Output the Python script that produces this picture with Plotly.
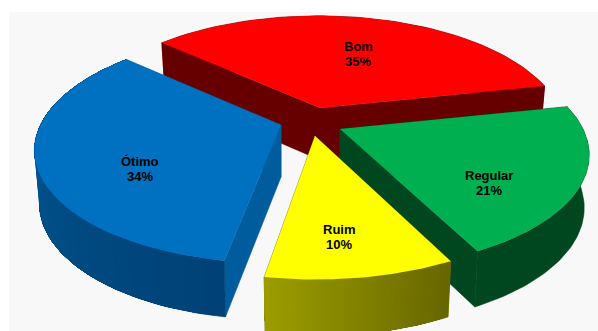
import numpy as np
import plotly.graph_objects as go

# Survey answers, share of respondents in percent
labels = ["Bom", "Regular", "Ruim", "Ótimo"]
values = [35, 21, 10, 34]

top_colors = ["#FF0000", "#00B050", "#FFFF00", "#0070C0"]
cut_colors = ["#660000", "#00461F", "#808000", "#005C9C"]
# rim colour at the first and last angle of each slice
rim_colors = [((102, 0, 0), (102, 0, 0)),
              ((0, 70, 31), (0, 70, 31)),
              ((102, 102, 0), (156, 156, 0)),
              ((0, 66, 118), (0, 94, 158))]

# Tilted-disc projection, expressed in page units
START_ANGLE = 312.0
CENTRE = (311.0, 122.0)
RX, RY, PERSPECTIVE = 243.0, 112.0, 0.2
DEPTH, DEPTH_SLOPE, BASE_SHRINK = 52.0, 0.03, 0.02
CONVERGENCE = 0.00167  # depth lines lean outward the further a slice sits from the middle

# Exploded offset and apparent size of each slice, and where its label sits (radius, angle)
pull = [(9, -14), (29, 7), (4, 14), (-30, 3)]
slice_scale = [0.985, 1.0, 1.02, 0.99]
label_anchor = [(0.56, 18.0), (0.71, 128.0), (0.77, 173.7), (0.65, 236.0)]


def project(radius, angle_deg):
    """Offset from a slice's apex for a point on the unit disc (clockwise from 12 o'clock)."""
    t = np.radians(angle_deg)
    px, py = radius * np.sin(t), -radius * np.cos(t)
    w = 1 - PERSPECTIVE * py
    return RX * px / w, RY * py / w


def lower(x, y):
    """Same offset moved down to the underside of the disc."""
    return x * (1 - BASE_SHRINK), y + DEPTH + DEPTH_SLOPE * y


def polygon(fig, xs, ys, color, edge=0.0):
    fig.add_trace(go.Scatter(
        x=xs, y=ys, mode="lines", fill="toself", fillcolor=color,
        line=dict(color=color, width=edge), hoverinfo="skip", showlegend=False))


fig = go.Figure()

angle = START_ANGLE
spans = []
for v in values:
    spans.append((angle, angle + v * 3.6))
    angle += v * 3.6

# Back-to-front drawing order
annotations = []
for i in [0, 1, 2, 3]:
    a0, a1 = spans[i]
    ax, ay = CENTRE[0] + pull[i][0], CENTRE[1] + pull[i][1]
    arc = np.linspace(a0, a1, 60)
    ox, oy = project(slice_scale[i], arc)
    ox = ox + CONVERGENCE * pull[i][0] * oy
    bx, by = lower(ox, oy)
    apex_bx, apex_by = lower(0.0, 0.0)

    # Two cut faces running in to the apex
    for k in (0, -1):
        polygon(fig,
                [ax, ax + ox[k], ax + bx[k], ax + apex_bx, ax],
                [ay, ay + oy[k], ay + by[k], ay + apex_by, ay],
                cut_colors[i], edge=0.6)

    # Curved rim: a solid band, then overlapping shaded strips where the colour varies
    c0, c1 = np.array(rim_colors[i][0]), np.array(rim_colors[i][1])
    r, g, b = c0
    polygon(fig,
            np.concatenate((ax + ox, (ax + bx)[::-1], [ax + ox[0]])),
            np.concatenate((ay + oy, (ay + by)[::-1], [ay + oy[0]])),
            f"rgb({r},{g},{b})", edge=0.6)
    if not np.array_equal(c0, c1):
        for k in range(1, len(arc) - 1):
            f = k / (len(arc) - 2)
            r, g, b = (c0 + (c1 - c0) * f).round().astype(int)
            polygon(fig,
                    np.concatenate((ax + ox[k:], (ax + bx[k:])[::-1], [ax + ox[k]])),
                    np.concatenate((ay + oy[k:], (ay + by[k:])[::-1], [ay + oy[k]])),
                    f"rgb({r},{g},{b})")

    # Upper face
    polygon(fig,
            np.concatenate(([ax], ax + ox, [ax])),
            np.concatenate(([ay], ay + oy, [ay])),
            top_colors[i])

    lx, ly = project(*label_anchor[i])
    for text, dy in ((labels[i], -7.5), (f"{values[i]}%", 7.5)):
        annotations.append(dict(
            x=ax + lx, y=ay + ly + dy, text=text, showarrow=False,
            xanchor="center", yanchor="middle",
            font=dict(family="Liberation Sans", size=13, color="#000000", weight="bold")))

fig.update_layout(
    width=598, height=331,
    margin=dict(l=0, r=0, t=0, b=0),
    paper_bgcolor="#FFFFFF", plot_bgcolor="#FFFFFF",
    showlegend=False,
    xaxis=dict(range=[0, 598], visible=False, fixedrange=True),
    yaxis=dict(range=[331, 0], visible=False, fixedrange=True),
    shapes=[dict(type="rect", xref="x", yref="y", x0=9, y0=12, x1=598, y1=331,
                 fillcolor="#F8F8F8", line=dict(width=0), layer="below")],
    annotations=annotations,
)

fig.write_html("out.html", config=dict(displayModeBar=False))
